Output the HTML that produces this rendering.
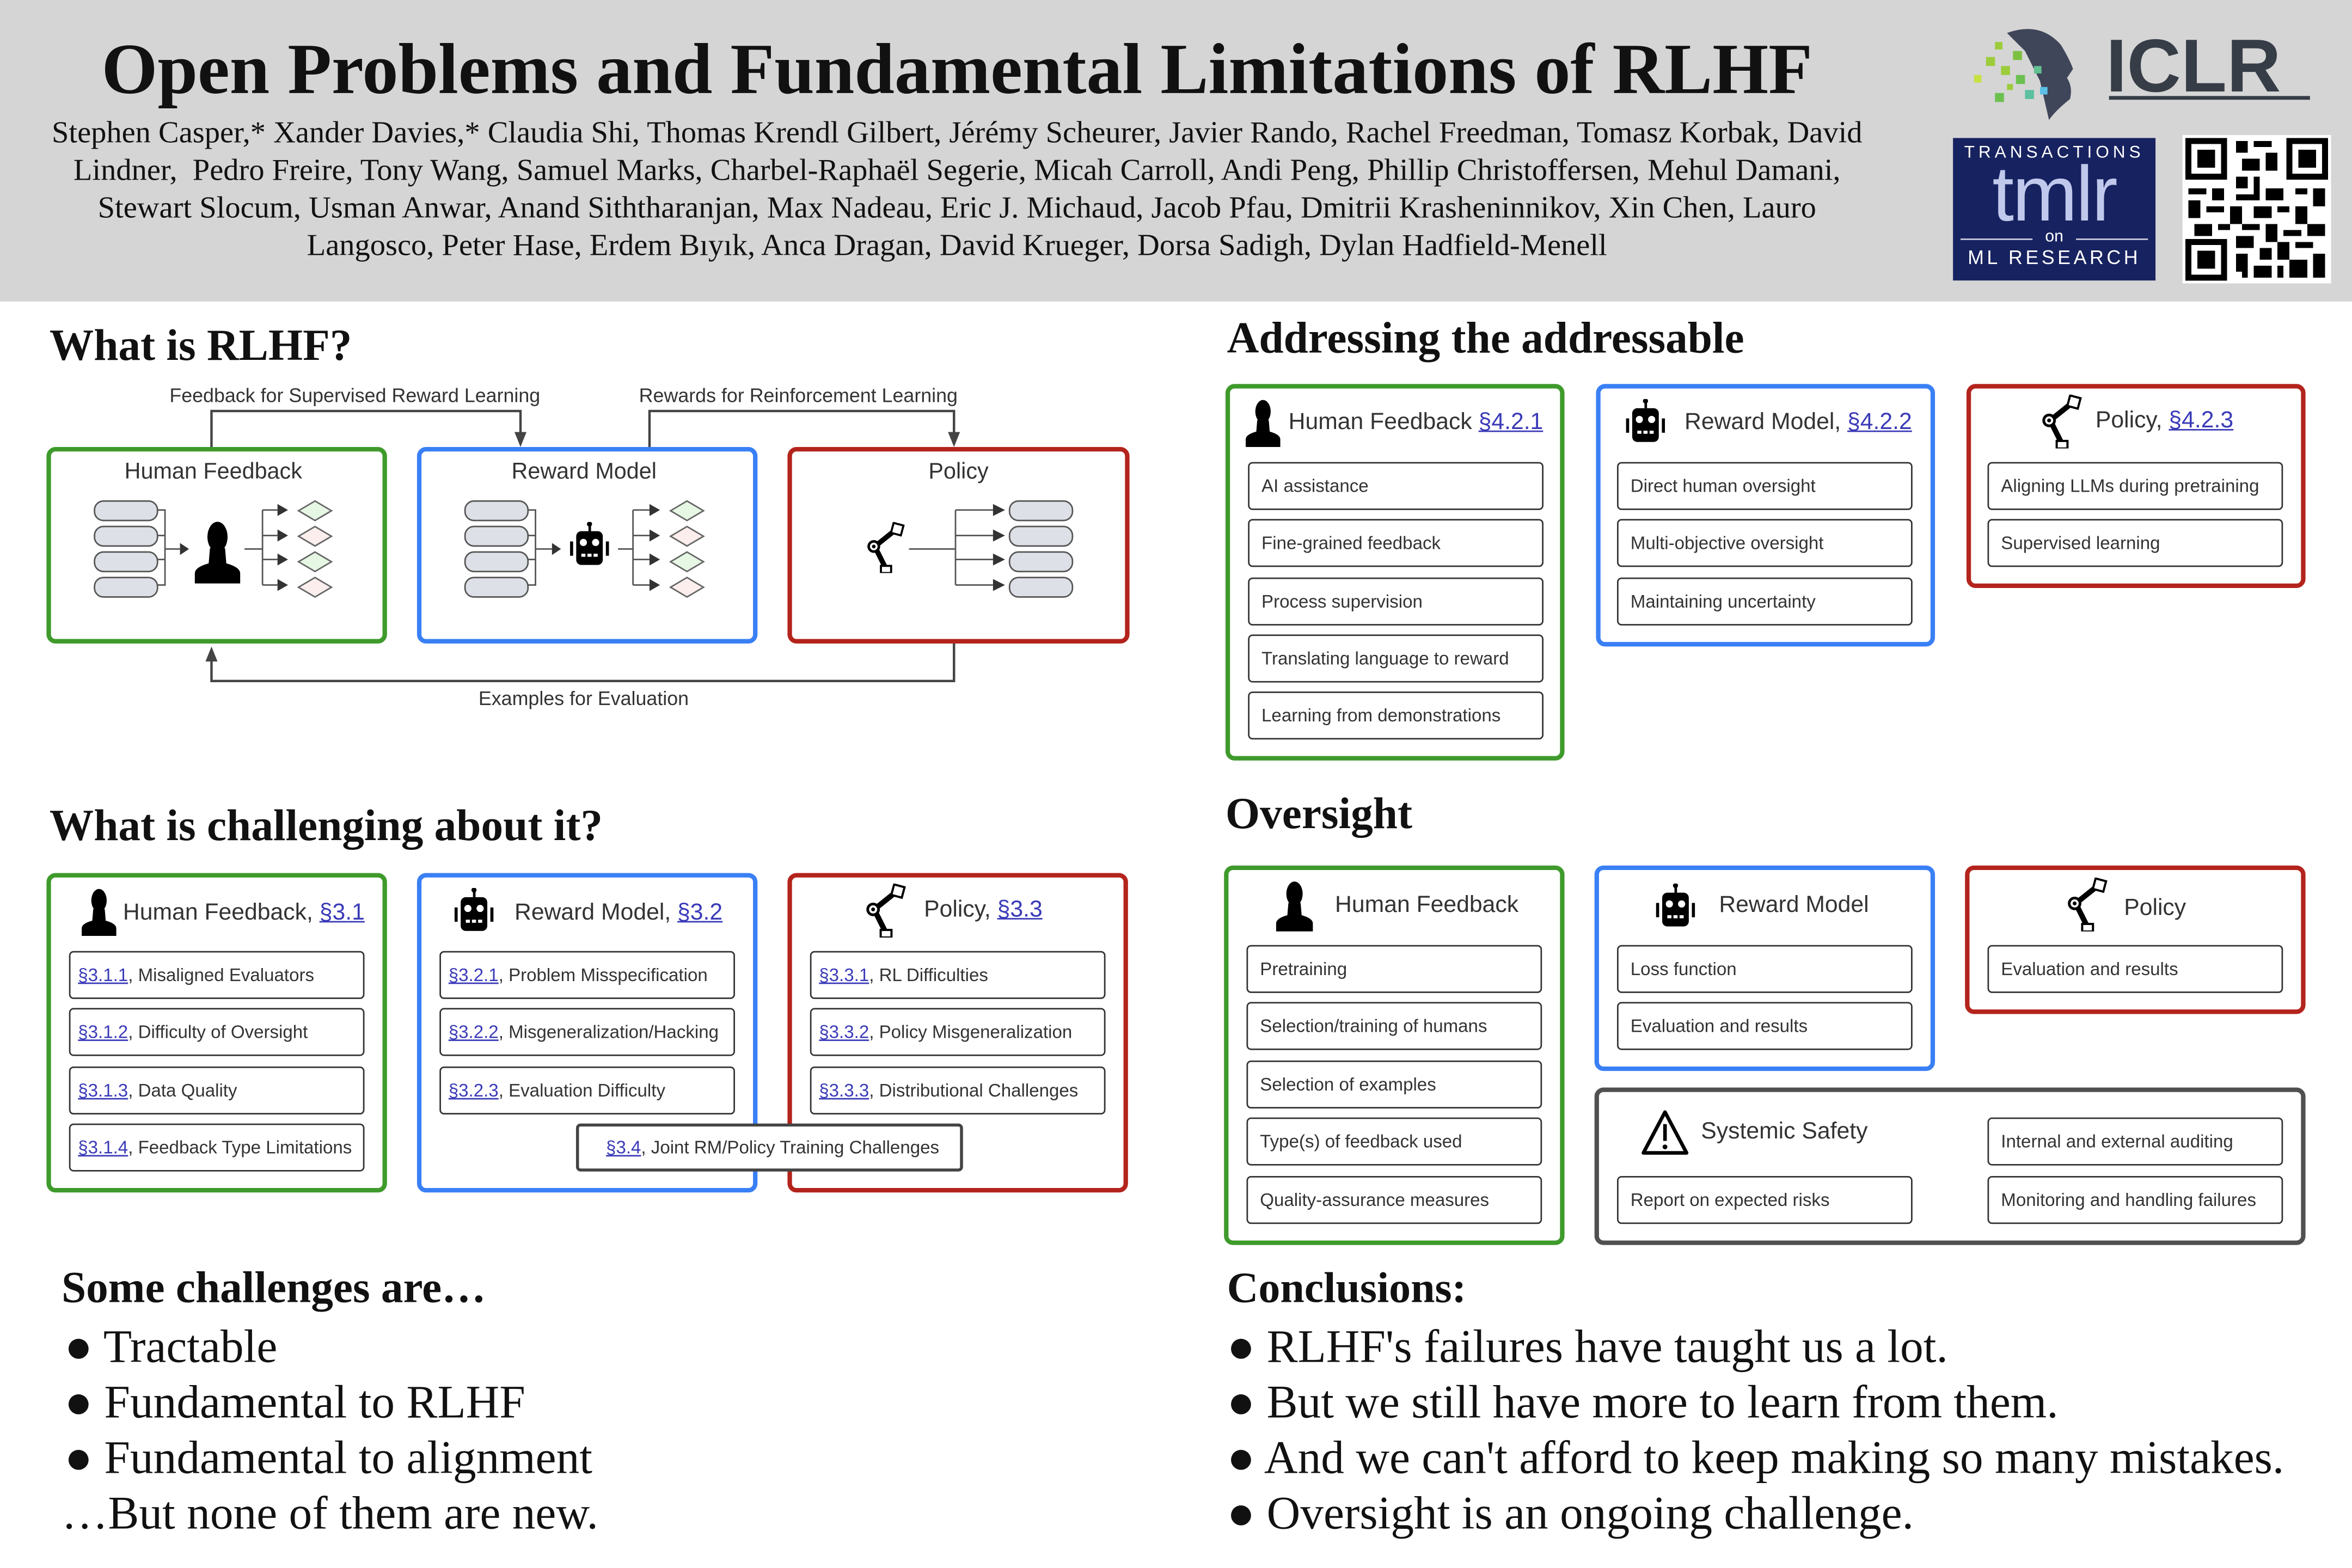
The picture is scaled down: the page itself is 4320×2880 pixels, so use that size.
<!DOCTYPE html>
<html><head><meta charset="utf-8">
<style>
html,body{margin:0;padding:0;background:#fff;}
body{width:4320px;height:2880px;overflow:hidden;position:relative;}
#w{position:absolute;left:0;top:0;width:1568px;height:1045px;transform:scale(2.7551);transform-origin:0 0;font-family:"Liberation Sans",sans-serif;}
.a{position:absolute;}
.serif{font-family:"Liberation Serif",serif;}
.h{position:absolute;font-family:"Liberation Serif",serif;font-weight:bold;font-size:29.5px;color:#111;white-space:nowrap;}
.bx{position:absolute;border:3px solid;border-radius:6px;box-sizing:border-box;background:#fff;}
.g{border-color:#3f9a2c}.b{border-color:#3a80f5}.r{border-color:#b3241c}.k{border-color:#505050}
.it{position:absolute;border:1px solid #333;border-radius:3px;box-sizing:border-box;height:32px;width:197px;font-size:12px;color:#333;line-height:30px;padding-left:5px;white-space:nowrap;background:#fff;}
.it a,.lk{color:#3a3ab8;text-decoration:underline;}
.t{position:absolute;font-size:15.5px;color:#333;white-space:nowrap;}
.lab{position:absolute;font-size:13px;color:#333;white-space:nowrap;}
.big{position:absolute;font-family:"Liberation Serif",serif;font-size:31px;color:#111;white-space:nowrap;}
</style></head><body><div id="w">
<svg width="0" height="0" style="position:absolute">
<defs>
<symbol id="person" viewBox="0 0 40 50"><ellipse cx="20" cy="13" rx="8" ry="12" fill="#000"/><path d="M14 22 L26 22 L27 34 Q38 37 38 42 L38 50 L2 50 L2 42 Q2 37 13 34 Z" fill="#000"/></symbol>
<symbol id="robot" viewBox="0 0 40 44"><rect x="19" y="0" width="2.5" height="9" fill="#000"/><circle cx="20" cy="2" r="2.5" fill="#000"/><rect x="7" y="9" width="26" height="33" rx="5" fill="#000"/><rect x="1" y="19" width="3" height="14" fill="#000"/><rect x="36" y="19" width="3" height="14" fill="#000"/><circle cx="14" cy="20" r="3.5" fill="#fff"/><circle cx="26" cy="20" r="3.5" fill="#fff"/><rect x="12" y="31" width="4" height="3" fill="#fff"/><rect x="18" y="31" width="4" height="3" fill="#fff"/><rect x="24" y="31" width="4" height="3" fill="#fff"/></symbol>
<symbol id="arm" viewBox="0 0 40 50"><path d="M10 24 L30 8" stroke="#000" stroke-width="5"/><path d="M10 24 L20 44" stroke="#000" stroke-width="5"/><rect x="27" y="2" width="10" height="10" fill="#fff" stroke="#000" stroke-width="2" transform="rotate(15 32 7)"/><circle cx="9" cy="24" r="5" fill="#fff" stroke="#000" stroke-width="2.5"/><circle cx="9" cy="24" r="1.8" fill="#000"/><rect x="16" y="43" width="10" height="7" fill="#fff" stroke="#000" stroke-width="2"/></symbol>
<symbol id="warn" viewBox="0 0 40 40"><path d="M20 3 L38 37 L2 37 Z" fill="none" stroke="#000" stroke-width="3" stroke-linejoin="round"/><rect x="18.5" y="13" width="3" height="14" fill="#000"/><circle cx="20" cy="32" r="2" fill="#000"/></symbol>
</defs></svg>

<!-- header -->
<div class="a" style="left:0;top:0;width:1568px;height:201px;background:#d5d5d5"></div>
<div class="a serif" style="left:0;top:19px;width:1276px;text-align:center;font-size:48px;font-weight:bold;color:#111">Open Problems and Fundamental Limitations of RLHF</div>
<div class="a serif" style="left:22px;top:77px;width:1232px;text-align:center;font-size:20.5px;line-height:25px;color:#111">Stephen Casper,* Xander Davies,* Claudia Shi, Thomas Krendl Gilbert, Jérémy Scheurer, Javier Rando, Rachel Freedman, Tomasz Korbak, David Lindner,&nbsp; Pedro Freire, Tony Wang, Samuel Marks, Charbel-Raphaël Segerie, Micah Carroll, Andi Peng, Phillip Christoffersen, Mehul Damani, Stewart Slocum, Usman Anwar, Anand Siththaranjan, Max Nadeau, Eric J. Michaud, Jacob Pfau, Dmitrii Krasheninnikov, Xin Chen, Lauro Langosco, Peter Hase, Erdem Bıyık, Anca Dragan, David Krueger, Dorsa Sadigh, Dylan Hadfield-Menell</div>
<!-- ICLR logo -->
<svg class="a" style="left:1310px;top:14px" width="240" height="66" viewBox="0 0 240 66">
<path d="M28 8 Q50 0 64 16 Q70 26 72 32 L68 38 Q72 44 70 52 Q60 60 56 66 L50 40 L40 20 Z" fill="#40465a"/>
<g fill="#9ccc3c"><rect x="14" y="24" width="6" height="6"/><rect x="20" y="14" width="5" height="5"/><rect x="6" y="36" width="5" height="5" fill="#c8e040"/><rect x="24" y="30" width="6" height="6"/><rect x="32" y="20" width="6" height="6" fill="#7cc040"/><rect x="34" y="36" width="6" height="6" fill="#6cc050"/><rect x="20" y="48" width="6" height="6" fill="#6cc050"/><rect x="40" y="46" width="6" height="6" fill="#5cc0a0"/><rect x="46" y="30" width="5" height="5" fill="#60c090"/><rect x="50" y="44" width="5" height="5" fill="#5cc0e8"/><rect x="28" y="42" width="4" height="4"/></g>
<text x="94" y="47" font-family="Liberation Sans" font-weight="bold" font-size="50" fill="#363d47">ICLR</text>
<rect x="96" y="50" width="134" height="2.5" fill="#363d47"/>
</svg>
<!-- tmlr -->
<div class="a" style="left:1302px;top:92px;width:135px;height:95px;background:#172260;color:#fff;text-align:center">
<div style="font-size:11.5px;letter-spacing:2.5px;margin-top:4px">TRANSACTIONS</div>
<div style="font-size:52px;line-height:44px;color:#c0c8ec;letter-spacing:-1px">tmlr</div>
<div style="font-size:11px;line-height:12px;position:relative">on<div style="position:absolute;left:5px;top:7px;width:48px;height:1px;background:#ccd"></div><div style="position:absolute;right:5px;top:7px;width:48px;height:1px;background:#ccd"></div></div>
<div style="font-size:13px;letter-spacing:2px">ML RESEARCH</div>
</div>
<!-- QR -->
<svg class="a" style="left:1455px;top:90px" width="99" height="99" viewBox="0 0 25 25" shape-rendering="crispEdges">
<rect width="25" height="25" fill="#fff"/>
<g fill="#000">
<rect x="0.5" y="0.5" width="7" height="7"/><rect x="17.5" y="0.5" width="7" height="7"/><rect x="0.5" y="17.5" width="7" height="7"/></g>
<g fill="#fff"><rect x="1.5" y="1.5" width="5" height="5"/><rect x="18.5" y="1.5" width="5" height="5"/><rect x="1.5" y="18.5" width="5" height="5"/></g>
<g fill="#000"><rect x="2.5" y="2.5" width="3" height="3"/><rect x="19.5" y="2.5" width="3" height="3"/><rect x="2.5" y="19.5" width="3" height="3"/>
<path d="M9 1h2v2h-2zM12 1h3v1h-3zM10 4h3v2h-3zM14 3h2v3h-2zM9 7h2v2h-2zM12 7h1v3h-1zM1 9h3v1h-3zM5 9h2v2h-2zM9 10h4v1h-4zM14 9h3v2h-3zM19 9h2v1h-2zM22 9h2v3h-2zM1 11h2v3h-2zM4 12h3v1h-3zM8 12h2v3h-2zM12 12h3v2h-3zM16 12h2v1h-2zM19 12h2v3h-2zM2 15h3v2h-3zM6 15h2v1h-2zM10 15h3v1h-3zM14 15h2v3h-2zM17 16h3v1h-3zM21 15h3v2h-3zM9 17h3v2h-3zM13 19h2v2h-2zM16 18h2v3h-2zM19 18h3v1h-3zM9 20h2v3h-2zM12 22h3v2h-3zM18 21h3v3h-3zM22 20h2v4h-2zM16 22h1v2h-1zM10 23h1v1h-1z"/></g>
</svg>

<!-- What is RLHF -->
<div class="h" style="left:33px;top:215px">What is RLHF?</div>
<svg class="a" style="left:0;top:250px" width="780" height="230" viewBox="0 250 780 230">
<g stroke="#444" stroke-width="1.6" fill="none">
<path d="M141 298 V274 H347 V292"/><path d="M433 298 V274 H636 V292"/><path d="M636 429 V454 H141 V437"/>
</g>
<g fill="#444"><path d="M343 288 L347 298 L351 288 Z"/><path d="M632 288 L636 298 L640 288 Z"/><path d="M137 441 L141 431 L145 441 Z"/></g>
</svg>
<div class="lab" style="left:113px;top:256px">Feedback for Supervised Reward Learning</div>
<div class="lab" style="left:426px;top:256px">Rewards for Reinforcement Learning</div>
<div class="lab" style="left:319px;top:458px">Examples for Evaluation</div>
<div class="bx g" style="left:31px;top:298px;width:227px;height:131px"></div>
<div class="bx b" style="left:278px;top:298px;width:227px;height:131px"></div>
<div class="bx r" style="left:525px;top:298px;width:228px;height:131px"></div>
<div class="t" style="left:83px;top:306px;font-size:15px">Human Feedback</div>
<div class="t" style="left:341px;top:306px;font-size:15px">Reward Model</div>
<div class="t" style="left:619px;top:306px;font-size:15px">Policy</div>
<svg class="a" style="left:0;top:320px" width="780" height="100" viewBox="0 320 780 100">
<defs>
<g id="pills"><rect x="0" y="0" width="42" height="13" rx="6" fill="#dde0e6" stroke="#555" stroke-width="1"/><rect x="0" y="17" width="42" height="13" rx="6" fill="#dde0e6" stroke="#555" stroke-width="1"/><rect x="0" y="34" width="42" height="13" rx="6" fill="#dde0e6" stroke="#555" stroke-width="1"/><rect x="0" y="51" width="42" height="13" rx="6" fill="#dde0e6" stroke="#555" stroke-width="1"/></g>
<g id="dia"><path d="M12 0 L23 6.5 L12 13 L1 6.5Z" fill="#e6f7e4" stroke="#666"/><path d="M12 17 L23 23.5 L12 30 L1 23.5Z" fill="#fbeeec" stroke="#666"/><path d="M12 34 L23 40.5 L12 47 L1 40.5Z" fill="#e6f7e4" stroke="#666"/><path d="M12 51 L23 57.5 L12 64 L1 57.5Z" fill="#fbeeec" stroke="#666"/></g>
</defs>
<use href="#pills" x="63" y="334"/><use href="#dia" x="198" y="334"/>
<use href="#pills" x="310" y="334"/><use href="#dia" x="446" y="334"/>
<use href="#pills" x="673" y="334"/>
<g stroke="#555" fill="none" stroke-width="1">
<path d="M105 340 H110 V390 H105 M105 357 H110 M105 373 H110 M110 366 H120"/>
<path d="M163 366 H175 M175 340 V390 M175 340 H185 M175 357 H185 M175 373 H185 M175 390 H185"/>
<path d="M352 340 H357 V390 H352 M352 357 H357 M352 373 H357 M357 366 H368"/>
<path d="M412 366 H422 M422 340 V390 M422 340 H433 M422 357 H433 M422 373 H433 M422 390 H433"/>
<path d="M606 366 H637 M637 340 V390 M637 340 H662 M637 357 H662 M637 373 H662 M637 390 H662"/>
</g>
<g fill="#333"><path d="M120 362 L126 366 L120 370Z"/><path d="M185 336 L192 340 L185 344Z M185 353 L192 357 L185 361Z M185 369 L192 373 L185 377Z M185 386 L192 390 L185 394Z"/>
<path d="M368 362 L374 366 L368 370Z"/><path d="M433 336 L440 340 L433 344Z M433 353 L440 357 L433 361Z M433 369 L440 373 L433 377Z M433 386 L440 390 L433 394Z"/>
<path d="M662 336 L670 340 L662 344Z M662 353 L670 357 L662 361Z M662 369 L670 373 L662 377Z M662 386 L670 390 L662 394Z"/></g>
<use href="#person" x="126" y="347" width="38" height="42"/>
<use href="#robot" x="376" y="348" width="34" height="30"/>
<use href="#arm" x="573" y="348" width="34" height="34"/>
</svg>

<!-- What is challenging -->
<div class="h" style="left:33px;top:535px">What is challenging about it?</div>
<div class="bx g" style="left:31px;top:582px;width:227px;height:213px"></div>
<div class="bx b" style="left:278px;top:582px;width:227px;height:213px"></div>
<div class="bx r" style="left:525px;top:582px;width:227px;height:213px"></div>
<svg class="a" style="left:52px;top:592px" width="28" height="32"><use href="#person" width="28" height="32"/></svg>
<div class="t" style="left:82px;top:600px">Human Feedback, <span class="lk">§3.1</span></div>
<svg class="a" style="left:297px;top:592px" width="38" height="32"><use href="#robot" width="38" height="30"/></svg>
<div class="t" style="left:343px;top:600px">Reward Model, <span class="lk">§3.2</span></div>
<svg class="a" style="left:572px;top:589px" width="38" height="36"><use href="#arm" width="36" height="36"/></svg>
<div class="t" style="left:616px;top:598px">Policy, <span class="lk">§3.3</span></div>
<div class="it" style="left:46px;top:634px"><a>§3.1.1</a>, Misaligned Evaluators</div>
<div class="it" style="left:46px;top:672px"><a>§3.1.2</a>, Difficulty of Oversight</div>
<div class="it" style="left:46px;top:711px"><a>§3.1.3</a>, Data Quality</div>
<div class="it" style="left:46px;top:749px"><a>§3.1.4</a>, Feedback Type Limitations</div>
<div class="it" style="left:293px;top:634px"><a>§3.2.1</a>, Problem Misspecification</div>
<div class="it" style="left:293px;top:672px"><a>§3.2.2</a>, Misgeneralization/Hacking</div>
<div class="it" style="left:293px;top:711px"><a>§3.2.3</a>, Evaluation Difficulty</div>
<div class="it" style="left:540px;top:634px"><a>§3.3.1</a>, RL Difficulties</div>
<div class="it" style="left:540px;top:672px"><a>§3.3.2</a>, Policy Misgeneralization</div>
<div class="it" style="left:540px;top:711px"><a>§3.3.3</a>, Distributional Challenges</div>
<div class="it" style="left:384px;top:749px;width:258px;border:2px solid #444;padding-left:18px;line-height:29px"><a>§3.4</a>, Joint RM/Policy Training Challenges</div>

<!-- Addressing -->
<div class="h" style="left:818px;top:210px">Addressing the addressable</div>
<div class="bx g" style="left:817px;top:256px;width:226px;height:251px"></div>
<div class="bx b" style="left:1064px;top:256px;width:226px;height:175px"></div>
<div class="bx r" style="left:1311px;top:256px;width:226px;height:136px"></div>
<svg class="a" style="left:828px;top:266px" width="28" height="32"><use href="#person" width="28" height="32"/></svg>
<div class="t" style="left:859px;top:273px">Human Feedback <span class="lk">§4.2.1</span></div>
<svg class="a" style="left:1078px;top:266px" width="38" height="32"><use href="#robot" width="38" height="30"/></svg>
<div class="t" style="left:1123px;top:273px">Reward Model, <span class="lk">§4.2.2</span></div>
<svg class="a" style="left:1356px;top:263px" width="38" height="36"><use href="#arm" width="36" height="36"/></svg>
<div class="t" style="left:1397px;top:272px">Policy, <span class="lk">§4.2.3</span></div>
<div class="it" style="left:832px;top:308px;padding-left:8px">AI assistance</div>
<div class="it" style="left:832px;top:346px;padding-left:8px">Fine-grained feedback</div>
<div class="it" style="left:832px;top:385px;padding-left:8px">Process supervision</div>
<div class="it" style="left:832px;top:423px;padding-left:8px">Translating language to reward</div>
<div class="it" style="left:832px;top:461px;padding-left:8px">Learning from demonstrations</div>
<div class="it" style="left:1078px;top:308px;padding-left:8px">Direct human oversight</div>
<div class="it" style="left:1078px;top:346px;padding-left:8px">Multi-objective oversight</div>
<div class="it" style="left:1078px;top:385px;padding-left:8px">Maintaining uncertainty</div>
<div class="it" style="left:1325px;top:308px;padding-left:8px">Aligning LLMs during pretraining</div>
<div class="it" style="left:1325px;top:346px;padding-left:8px">Supervised learning</div>

<!-- Oversight -->
<div class="h" style="left:817px;top:527px">Oversight</div>
<div class="bx g" style="left:816px;top:577px;width:227px;height:253px"></div>
<div class="bx b" style="left:1063px;top:577px;width:227px;height:137px"></div>
<div class="bx r" style="left:1310px;top:577px;width:227px;height:99px"></div>
<div class="bx k" style="left:1063px;top:725px;width:474px;height:105px"></div>
<svg class="a" style="left:848px;top:587px" width="30" height="34"><use href="#person" width="30" height="34"/></svg>
<div class="t" style="left:890px;top:595px">Human Feedback</div>
<svg class="a" style="left:1097px;top:589px" width="40" height="32"><use href="#robot" width="40" height="30"/></svg>
<div class="t" style="left:1146px;top:595px">Reward Model</div>
<svg class="a" style="left:1373px;top:585px" width="38" height="36"><use href="#arm" width="36" height="36"/></svg>
<div class="t" style="left:1416px;top:597px">Policy</div>
<svg class="a" style="left:1094px;top:739px" width="32" height="32"><use href="#warn" width="32" height="32"/></svg>
<div class="t" style="left:1134px;top:746px">Systemic Safety</div>
<div class="it" style="left:831px;top:630px;padding-left:8px">Pretraining</div>
<div class="it" style="left:831px;top:668px;padding-left:8px">Selection/training of humans</div>
<div class="it" style="left:831px;top:707px;padding-left:8px">Selection of examples</div>
<div class="it" style="left:831px;top:745px;padding-left:8px">Type(s) of feedback used</div>
<div class="it" style="left:831px;top:784px;padding-left:8px">Quality-assurance measures</div>
<div class="it" style="left:1078px;top:630px;padding-left:8px">Loss function</div>
<div class="it" style="left:1078px;top:668px;padding-left:8px">Evaluation and results</div>
<div class="it" style="left:1325px;top:630px;padding-left:8px">Evaluation and results</div>
<div class="it" style="left:1325px;top:745px;padding-left:8px">Internal and external auditing</div>
<div class="it" style="left:1078px;top:784px;padding-left:8px">Report on expected risks</div>
<div class="it" style="left:1325px;top:784px;padding-left:8px">Monitoring and handling failures</div>

<!-- bottom -->
<div class="h" style="left:41px;top:843px;font-size:29.5px">Some challenges are…</div>
<div class="big" style="left:43px;top:880px">● Tractable</div>
<div class="big" style="left:43px;top:917px">● Fundamental to RLHF</div>
<div class="big" style="left:43px;top:954px">● Fundamental to alignment</div>
<div class="big" style="left:41px;top:991px">…But none of them are new.</div>
<div class="h" style="left:818px;top:843px;font-size:29px">Conclusions:</div>
<div class="big" style="left:818px;top:880px">● RLHF's failures have taught us a lot.</div>
<div class="big" style="left:818px;top:917px">● But we still have more to learn from them.</div>
<div class="big" style="left:818px;top:954px">● And we can't afford to keep making so many mistakes.</div>
<div class="big" style="left:818px;top:991px">● Oversight is an ongoing challenge.</div>
</div></body></html>
